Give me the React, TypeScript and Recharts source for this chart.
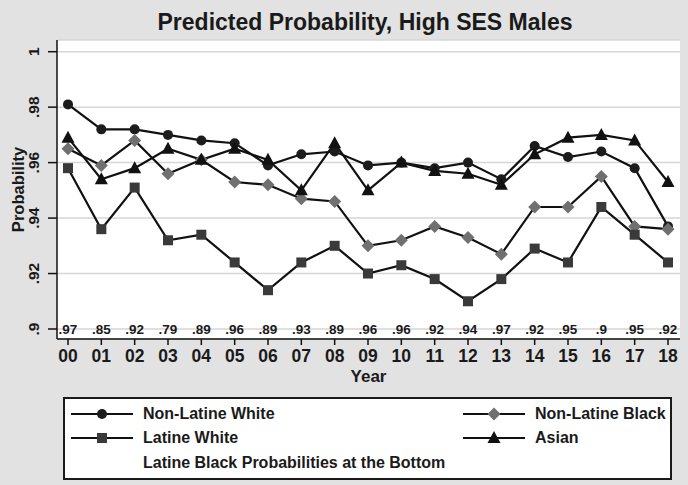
import React from 'react';
import {
	LineChart,
	Line,
	XAxis,
	YAxis,
	CartesianGrid,
	Legend,
	LabelList,
} from 'recharts';

// years 2000-2018
const years = ['00', '01', '02', '03', '04', '05', '06', '07', '08', '09', '10', '11', '12', '13', '14', '15', '16', '17', '18'];

const nonLatineWhite = [0.981, 0.972, 0.972, 0.97, 0.968, 0.967, 0.959, 0.963, 0.964, 0.959, 0.96, 0.958, 0.96, 0.954, 0.966, 0.962, 0.964, 0.958, 0.937];
const nonLatineBlack = [0.965, 0.959, 0.968, 0.956, 0.961, 0.953, 0.952, 0.947, 0.946, 0.93, 0.932, 0.937, 0.933, 0.927, 0.944, 0.944, 0.955, 0.937, 0.936];
const latineWhite = [0.958, 0.936, 0.951, 0.932, 0.934, 0.924, 0.914, 0.924, 0.93, 0.92, 0.923, 0.918, 0.91, 0.918, 0.929, 0.924, 0.944, 0.934, 0.924];
const asian = [0.969, 0.954, 0.958, 0.965, 0.961, 0.965, 0.961, 0.95, 0.967, 0.95, 0.96, 0.957, 0.956, 0.952, 0.963, 0.969, 0.97, 0.968, 0.953];
// shown as text along the bottom of the plot
const latineBlack = [0.97, 0.85, 0.92, 0.79, 0.89, 0.96, 0.89, 0.93, 0.89, 0.96, 0.96, 0.92, 0.94, 0.97, 0.92, 0.95, 0.9, 0.95, 0.92];

const yTicks = [0.9, 0.92, 0.94, 0.96, 0.98, 1];
const yMin = 0.9;

const data = years.map((year, i) => ({
	year,
	nlw: nonLatineWhite[i],
	nlb: nonLatineBlack[i],
	lw: latineWhite[i],
	asian: asian[i],
	lb: latineBlack[i],
}));

const FONT = '"Liberation Sans", Arial, Helvetica, sans-serif';
const INK = '#1a1a1a';
const fmt = (v: any) => String(v).replace(/^0/, '');

type Shape = 'circle' | 'diamond' | 'square' | 'triangle';

const marker = (shape: Shape, cx: number, cy: number, fill: string, key?: any) => {
	if (shape === 'circle') return <circle key={key} cx={cx} cy={cy} r={5} fill={fill} />;
	if (shape === 'square') return <rect key={key} x={cx - 5} y={cy - 5} width={10} height={10} fill={fill} />;
	if (shape === 'diamond')
		return <polygon key={key} points={`${cx},${cy - 6.5} ${cx + 6.5},${cy} ${cx},${cy + 6.5} ${cx - 6.5},${cy}`} fill={fill} />;
	return <polygon key={key} points={`${cx},${cy - 7} ${cx + 6.5},${cy + 5} ${cx - 6.5},${cy + 5}`} fill={fill} />;
};

const series: { key: string; name: string; shape: Shape; color: string }[] = [
	{ key: 'nlw', name: 'Non-Latine White', shape: 'circle', color: '#1c1c1c' },
	{ key: 'nlb', name: 'Non-Latine Black', shape: 'diamond', color: '#707070' },
	{ key: 'lw', name: 'Latine White', shape: 'square', color: '#3a3a3a' },
	{ key: 'asian', name: 'Asian', shape: 'triangle', color: '#111111' },
];

const YTick = (props: any) => {
	const { x, y, payload } = props;
	return (
		<text
			x={x}
			y={y}
			transform={`rotate(-90, ${x}, ${y})`}
			textAnchor='middle'
			fontSize={15.5}
			fontWeight='bold'
			fontFamily={FONT}
			fill={INK}
		>
			{fmt(payload.value)}
		</text>
	);
};

const LegendSymbol = ({ shape, color }: { shape: Shape; color: string }) => (
	<svg width={62} height={14} style={{ position: 'absolute', top: -7 }}>
		<line x1={0} y1={7} x2={62} y2={7} stroke='#111' strokeWidth={2} />
		{marker(shape, 31, 7, color)}
	</svg>
);

const LegendBox = () => {
	const cell = (s: (typeof series)[number], left: number, top: number) => (
		<div key={s.key} style={{ position: 'absolute', left, top }}>
			<LegendSymbol shape={s.shape} color={s.color} />
			<span
				style={{
					position: 'absolute',
					left: 72,
					top: -9,
					lineHeight: '18px',
					whiteSpace: 'nowrap',
				}}
			>
				{s.name}
			</span>
		</div>
	);
	return (
		<div
			style={{
				position: 'relative',
				width: 609,
				height: 83,
				boxSizing: 'border-box',
				border: '2px solid #1a1a1a',
				background: '#fff',
				fontFamily: FONT,
				fontSize: 16,
				fontWeight: 'bold',
				color: INK,
			}}
		>
			{cell(series[0], 6, 15)}
			{cell(series[1], 398, 15)}
			{cell(series[2], 6, 39)}
			{cell(series[3], 398, 39)}
			<span
				style={{
					position: 'absolute',
					left: 78,
					top: 55,
					lineHeight: '18px',
					whiteSpace: 'nowrap',
				}}
			>
				Latine Black Probabilities at the Bottom
			</span>
		</div>
	);
};

export default function App() {
	return (
		<div
			style={{
				position: 'absolute',
				left: 0,
				top: 0,
				width: 688,
				height: 485,
				background: '#e2e2e2',
				overflow: 'hidden',
				fontFamily: FONT,
			}}
		>
			<div
				style={{
					position: 'absolute',
					left: 365,
					top: 11,
					transform: 'translateX(-50%)',
					fontSize: 23,
					fontWeight: 'bold',
					lineHeight: '23px',
					whiteSpace: 'nowrap',
					color: INK,
				}}
			>
				Predicted Probability, High SES Males
			</div>
			<LineChart
				width={688}
				height={485}
				data={data}
				margin={{ top: 40, right: 8, bottom: 0, left: 0 }}
			>
				<CartesianGrid vertical={false} stroke='#d6d6d6' strokeWidth={1.5} fill='#fff' />
				<XAxis
					dataKey='year'
					height={146}
					padding={{ left: 11, right: 12 }}
					tickSize={6}
					tickMargin={5}
					interval={0}
					tick={{ fontSize: 17.5, fontWeight: 'bold', fill: INK, fontFamily: FONT }}
					tickLine={{ stroke: '#111', strokeWidth: 1.5 }}
					axisLine={{ stroke: '#111', strokeWidth: 1.5 }}
					label={{
						value: 'Year',
						position: 'insideTop',
						offset: 31,
						fontSize: 17,
						fontWeight: 'bold',
						fill: INK,
						fontFamily: FONT,
					}}
				/>
				<YAxis
					width={57}
					domain={[yMin, 1]}
					ticks={yTicks}
					padding={{ top: 11.7, bottom: 10 }}
					tickSize={9}
					tickMargin={9}
					tick={<YTick />}
					tickLine={{ stroke: '#111', strokeWidth: 1.5 }}
					axisLine={{ stroke: '#111', strokeWidth: 1.5 }}
					label={{
						value: 'Probability',
						content: (p: any) => {
							const vb = p.viewBox;
							const cy = vb.y + vb.height / 2;
							return (
								<text
									x={24}
									y={cy}
									transform={`rotate(-90, 24, ${cy})`}
									textAnchor='middle'
									fontSize={16.5}
									fontWeight='bold'
									fontFamily={FONT}
									fill={INK}
								>
									Probability
								</text>
							);
						},
					}}
				/>
				<Legend
					verticalAlign='middle'
					align='center'
					layout='horizontal'
					wrapperStyle={{ position: 'absolute', left: 63, top: 397, width: 609, height: 83 }}
					content={() => <LegendBox />}
				/>
				{series.map((s) => (
					<Line
						key={s.key}
						dataKey={s.key}
						name={s.name}
						stroke='#111'
						strokeWidth={2.2}
						type='linear'
						isAnimationActive={false}
						dot={(p: any) => marker(s.shape, p.cx, p.cy, s.color, `${s.key}-${p.index}`)}
						activeDot={false}
					/>
				))}
				<Line
					dataKey={() => yMin}
					name='Latine Black'
					stroke='none'
					dot={false}
					activeDot={false}
					legendType='none'
					isAnimationActive={false}
				>
					<LabelList
						dataKey='lb'
						position='center'
						formatter={fmt}
						fontSize={13.5}
						fontWeight='bold'
						fill={INK}
						fontFamily={FONT}
					/>
				</Line>
			</LineChart>
		</div>
	);
}
